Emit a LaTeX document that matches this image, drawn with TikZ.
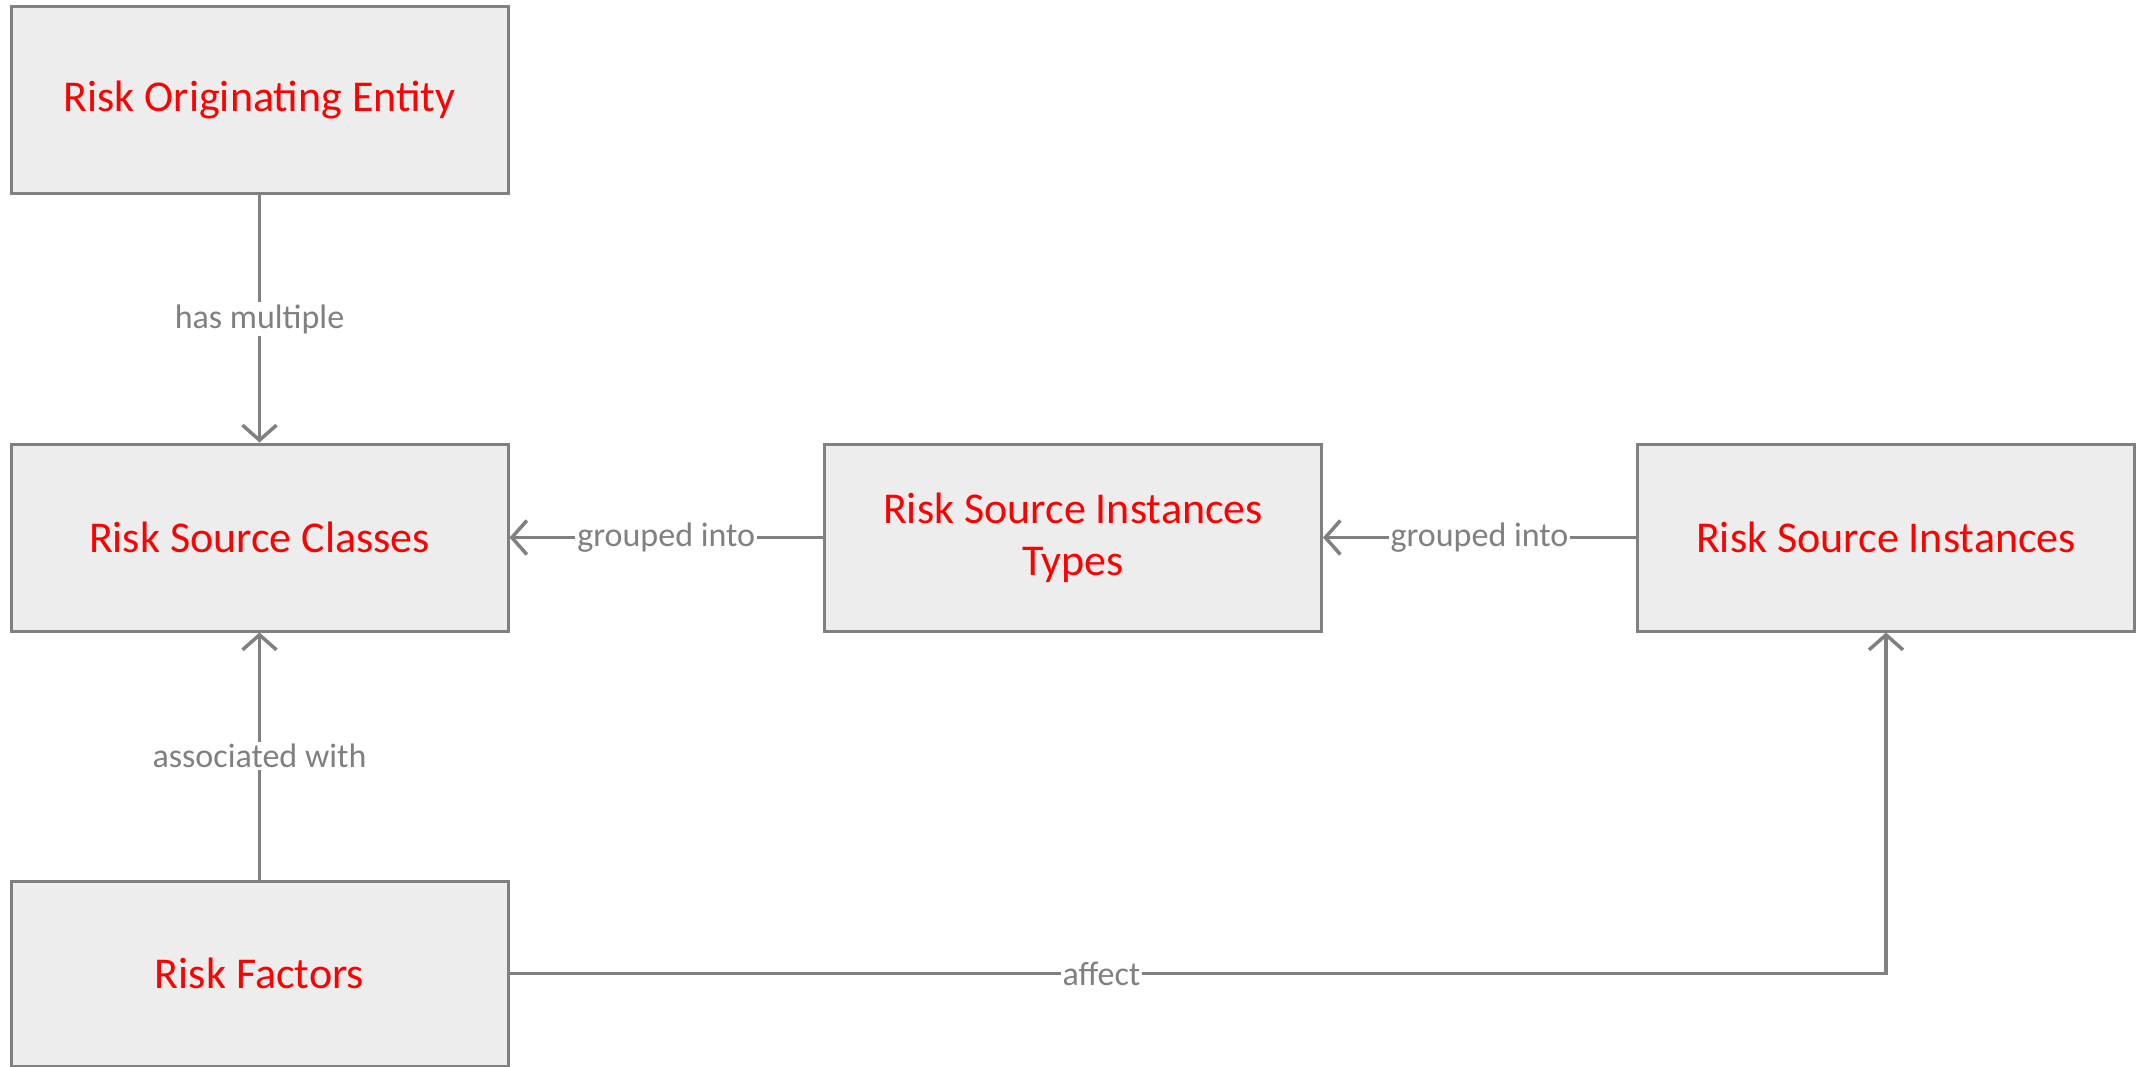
\documentclass[tikz,border=0pt]{standalone}
\usepackage{fontspec}
\setmainfont{Carlito}
\usetikzlibrary{arrows.meta}
\definecolor{linegray}{RGB}{128,128,128}
\definecolor{boxfill}{RGB}{237,237,237}
\definecolor{textred}{RGB}{255,0,0}
\tikzset{
  entity/.style={draw=linegray, line width=3pt, fill=boxfill,
    minimum width=497pt, minimum height=187pt, inner sep=0pt,
    align=center, text=textred, font=\fontsize{44}{52}\selectfont},
  conn/.style={draw=linegray, line width=3.5pt},
  arr/.style={conn, -{Straight Barb[length=15pt, width=34pt, line width=3.5pt]}},
  lbl/.style={fill=white, text=linegray, inner sep=2pt,
    font=\fontsize{34}{40}\selectfont}
}
\begin{document}
\begin{tikzpicture}[x=1pt, y=-1pt]
  \useasboundingbox (0,0) rectangle (2143,1067);
  \begin{scope}
    \clip (0,0) rectangle (2143,1067);
    % entities
    \node[entity] (roe)  at (259.5,100.5) {Risk Originating Entity};
    \node[entity] (rsc)  at (259.5,537.5) {Risk Source Classes};
    \node[entity] (rsit) at (1073,537.5)  {Risk Source Instances\\Types};
    \node[entity] (rsi)  at (1886,537.5)  {Risk Source Instances};
    \node[entity, minimum height=185pt] (rf) at (259.5,973.5) {Risk Factors};
    \coordinate (bend) at (rsi.south |- rf.east);
    % relationships
    \draw[arr] (roe) -- node[lbl] {has multiple} (rsc);
    \draw[arr] (rsit) -- node[lbl] {grouped into} (rsc);
    \draw[arr] (rsi) -- node[lbl] {grouped into} (rsit);
    \draw[arr] (rf) -- node[lbl] {associated with} (rsc);
    \draw[arr] (rf.east) -- node[lbl, pos=0.43] {affect} (bend) -- (rsi.south);
  \end{scope}
\end{tikzpicture}
\end{document}
